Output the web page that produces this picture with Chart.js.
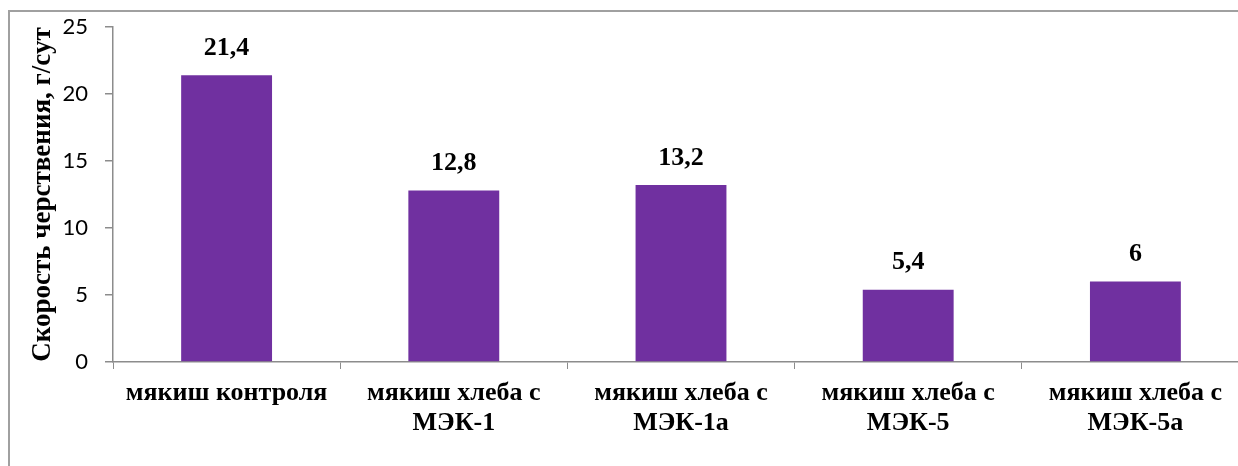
<!DOCTYPE html>
<html>
<head>
<meta charset="utf-8">
<script src="https://cdn.jsdelivr.net/npm/chart.js@4/dist/chart.umd.min.js"></script>
<style>
  html, body { margin: 0; padding: 0; background: #fff; overflow: hidden; width: 1238px; height: 466px; }
  #wrap { position: absolute; left: 0; top: 0; width: 1262px; height: 466px; }
  #frame { position: absolute; left: 8px; top: 10px; width: 1300px; height: 500px;
           border-left: 2px solid #a0a0a0; border-top: 2px solid #a0a0a0; }
  canvas { position: absolute; left: 0; top: 0; }
</style>
</head>
<body>
<div id="wrap">
  <div id="frame"></div>
  <canvas id="c" width="1262" height="466"></canvas>
</div>
<script>
// Staling rate of bread crumb, g per day
const categories = [
  'мякиш контроля',
  ['мякиш хлеба с', 'МЭК-1'],
  ['мякиш хлеба с', 'МЭК-1а'],
  ['мякиш хлеба с', 'МЭК-5'],
  ['мякиш хлеба с', 'МЭК-5а']
];
const stalingRate = [21.4, 12.8, 13.2, 5.4, 6];
const yTicks = [0, 5, 10, 15, 20, 25];
const yTitle = 'Скорость черствения, г/сут';

const serif = '"Liberation Serif", "Times New Roman", serif';
const axisGray = '#8c8c8c';

// Value labels above each bar, decimal comma
const valueLabels = {
  id: 'valueLabels',
  afterDatasetsDraw(chart) {
    const ctx = chart.ctx;
    const meta = chart.getDatasetMeta(0);
    ctx.save();
    ctx.font = 'bold 26px ' + serif;
    ctx.fillStyle = '#000';
    ctx.textAlign = 'center';
    ctx.textBaseline = 'middle';
    meta.data.forEach((bar, i) => {
      const txt = String(stalingRate[i]).replace('.', ',');
      ctx.fillText(txt, bar.x, bar.y - 27);
    });
    ctx.restore();
  }
};

new Chart(document.getElementById('c'), {
  type: 'bar',
  data: {
    labels: categories,
    datasets: [{
      data: stalingRate,
      backgroundColor: '#7030A0',
      borderWidth: 0,
      categoryPercentage: 1.0,
      barPercentage: 0.4
    }]
  },
  options: {
    responsive: false,
    animation: false,
    devicePixelRatio: 1,
    layout: { padding: { left: 0, top: 27, right: 13, bottom: 0 } },
    plugins: { legend: { display: false }, tooltip: { enabled: false } },
    scales: {
      x: {
        offset: true,
        grid: { offset: true, drawOnChartArea: false, drawTicks: true, tickLength: 7, color: axisGray, lineWidth: 1 },
        border: { color: axisGray, width: 1.5 },
        ticks: {
          padding: 9,
          color: '#000',
          maxRotation: 0,
          autoSkip: false,
          font: { family: serif, size: 26, weight: 'bold', lineHeight: 1.15 }
        },
        afterFit(scale) { scale.height = 104; }
      },
      y: {
        min: 0,
        max: 25,
        afterBuildTicks(scale) { scale.ticks = yTicks.map(v => ({ value: v })); },
        grid: { drawOnChartArea: false, drawTicks: true, tickLength: 8, color: axisGray, lineWidth: 1.5 },
        border: { color: axisGray, width: 1.5 },
        ticks: {
          padding: 17,
          color: '#000',
          font: { family: 'Lato, "Open Sans", sans-serif', size: 22 }
        },
        title: {
          display: true,
          text: yTitle,
          color: '#000',
          padding: { top: 30, bottom: 0 },
          font: { family: serif, size: 27, weight: 'bold', lineHeight: 1 }
        },
        afterFit(scale) {
          scale.width = 113;
          scale.paddingTop = 0;
          scale.paddingBottom = 0;
        }
      }
    }
  },
  plugins: [valueLabels]
});
</script>
</body>
</html>
